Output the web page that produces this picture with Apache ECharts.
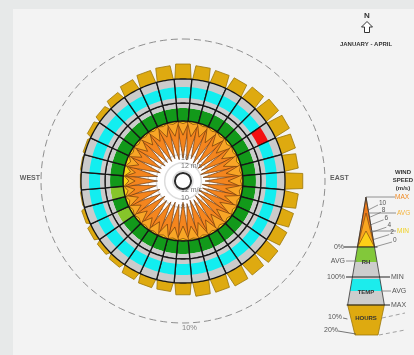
<!DOCTYPE html>
<html>
<head>
<meta charset="utf-8">
<script src="https://cdn.jsdelivr.net/npm/echarts@6/dist/echarts.min.js"></script>
<style>
  html, body { margin: 0; padding: 0; background: #e7e9e9; }
  #chart { width: 414px; height: 355px; }
</style>
</head>
<body>
<div id="chart"></div>
<script>
// Wind rose, January - April: one 10-degree sector per direction (degrees clockwise from north)
const directions = [0, 10, 20, 30, 40, 50, 60, 70, 80, 90, 100, 110, 120, 130, 140, 150, 160, 170,
                    180, 190, 200, 210, 220, 230, 240, 250, 260, 270, 280, 290, 300, 310, 320, 330, 340, 350];

// Share of hours with wind from each sector (%)
const hoursPct = [3.8, 3.5, 3.3, 3.3, 3.7, 4.2, 4.2, 3.8, 3.5, 4.5, 3.5, 3.3, 3.5, 4.0, 3.7, 3.8, 3.5, 3.5,
                  3.0, 2.3, 2.3, 2.0, 1.3, 1.1, 1.1, 0.9, 0.3, 0.2, 0.3, 0.5, 1.2, 1.5, 2.0, 2.8, 3.3, 3.5];

// Wind speed per sector (m/s)
const speedMax = [8.9, 9.3, 8.7, 9.5, 9.1, 9.7, 9.3, 9.9, 9.5, 9.1, 9.7, 9.4, 10.0, 9.6, 9.8, 9.2, 9.5, 8.9,
                  9.3, 8.7, 9.0, 8.6, 8.3, 8.7, 8.1, 8.5, 7.9, 8.3, 8.2, 8.6, 8.4, 8.8, 8.6, 9.0, 8.7, 9.2];
const speedAvg = [3.4, 3.6, 3.2, 3.8, 3.5, 4.0, 3.7, 4.1, 3.9, 3.6, 4.0, 3.8, 4.2, 3.9, 4.0, 3.6, 3.8, 3.4,
                  3.6, 3.2, 3.4, 3.1, 2.9, 3.2, 2.8, 3.0, 2.7, 2.9, 2.8, 3.1, 3.0, 3.3, 3.1, 3.4, 3.2, 3.5];
const speedMin = [0.6, 0.6, 0.5, 0.6, 0.6, 0.7, 0.6, 0.7, 0.6, 0.6, 0.7, 0.6, 0.7, 0.6, 0.7, 0.6, 0.6, 0.5,
                  0.6, 0.5, 0.6, 0.5, 0.5, 0.6, 0.6, 0.8, 1.0, 1.4, 1.6, 1.0, 0.6, 0.6, 0.5, 0.6, 0.5, 0.6];

// Relative humidity, average per sector (%), and sectors flagged as dry
const rhAvg = [72, 72, 72, 72, 72, 72, 72, 72, 72, 72, 72, 72, 72, 72, 72, 72, 72, 72,
               72, 72, 72, 72, 72, 72, 72, 72, 72, 72, 72, 72, 72, 72, 72, 72, 72, 72];
const drySectors = [240, 260];

// Temperature band per sector (deg C), and sectors flagged as hot
const tempLow = [1, 1, 1, 1, 1, 1, 1, 1, 1, 1, 1, 1, 1, 1, 1, 1, 1, 1,
                 1, 1, 1, 1, 1, 1, 1, 1, 1, 1, 1, 1, 1, 1, 1, 1, 1, 1];
const tempAvg = [12, 12, 12, 12, 12, 12, 12, 12, 12, 12, 12, 12, 12, 12, 12, 12, 12, 12,
                 12, 12, 12, 12, 12, 12, 12, 12, 12, 12, 12, 12, 12, 12, 12, 12, 12, 12];
const hotSectors = [60];

// Speed grid labels inside the rose
const speedGridValues = [12, 10, 8];
const speedGridLabels = ['12 m/s', '10', '8'];

// Reference ring for the hours scale (%)
const hoursRing = 10;

// Legend scale ticks (m/s)
const legendSpeedTicks = [0, 2, 4, 6, 8, 10];

const FONT = '"Liberation Sans", Arial, sans-serif';
const HALF = 5;        // half sector width in degrees
const SPIKE_HALF = 6;  // half base width of the wind spikes in degrees
const CENTER = [183, 181];
// pixel radii of the concentric rings: hub disk, wind speed, humidity, temperature, hours
const RINGS = [[0, 60], [10, 60], [60, 78], [78, 102], [102, 142]];

function arcCell(api, v0, v1, a0, a1, style) {
  const pts = [];
  const n = 8;
  for (let k = 0; k <= n; k++) pts.push(api.coord([v1, a0 + (a1 - a0) * k / n]));
  for (let k = n; k >= 0; k--) pts.push(api.coord([v0, a0 + (a1 - a0) * k / n]));
  return { type: 'polygon', shape: { points: pts }, style: style };
}

function spikeSeries(values, fill) {
  return {
    type: 'custom', coordinateSystem: 'polar', polarIndex: 1, silent: true, z: 3,
    data: directions.map((d, i) => [values[i], d]),
    renderItem: (params, api) => {
      const v = api.value(0), a = api.value(1);
      return {
        type: 'polygon',
        shape: { points: [api.coord([0, a - SPIKE_HALF]), api.coord([v, a]), api.coord([0, a + SPIKE_HALF])] },
        style: { fill: fill, stroke: '#6e3a0c', lineWidth: 0.7 }
      };
    }
  };
}

const polar = RINGS.map(r => ({ center: CENTER, radius: r }));
const angleAxis = RINGS.map((r, i) => ({
  polarIndex: i, type: 'value', min: 0, max: 360, startAngle: 90, clockwise: true,
  axisLine: { show: false }, axisTick: { show: false }, axisLabel: { show: false }, splitLine: { show: false }
}));
const radiusAxis = [
  { polarIndex: 0, type: 'value', min: 0, max: 1, show: false },
  { polarIndex: 1, type: 'value', min: 0, max: 12, interval: 2, inverse: true,
    axisLine: { show: false }, axisTick: { show: false }, axisLabel: { show: false },
    splitLine: { show: true, lineStyle: { color: '#dcdcdc', width: 1.5 } } },
  { polarIndex: 2, type: 'value', min: 0, max: 100, show: false },
  { polarIndex: 3, type: 'value', min: -4, max: 20, show: false },
  { polarIndex: 4, type: 'value', min: 0, max: 10, show: false }
];

const series = [
  // white disk behind the wind spikes
  {
    type: 'custom', coordinateSystem: 'polar', polarIndex: 0, silent: true, z: -1,
    data: [[1, 0]],
    renderItem: (params, api) => {
      const c = api.coord([0, 0]);
      const e = api.coord([api.value(0), 0]);
      const R = Math.hypot(e[0] - c[0], e[1] - c[1]);
      return { type: 'circle', shape: { cx: c[0], cy: c[1], r: R }, style: { fill: '#ffffff' } };
    }
  },
  // hub ring
  {
    type: 'custom', coordinateSystem: 'polar', polarIndex: 0, silent: true, z: 4,
    data: [[0.135, 0]],
    renderItem: (params, api) => {
      const c = api.coord([0, 0]);
      const e = api.coord([api.value(0), 0]);
      const R = Math.hypot(e[0] - c[0], e[1] - c[1]);
      return { type: 'circle', shape: { cx: c[0], cy: c[1], r: R }, style: { fill: '#ffffff', stroke: '#2b2b2b', lineWidth: 2 } };
    }
  },
  // dashed 10% hours ring
  {
    type: 'custom', coordinateSystem: 'polar', polarIndex: 4, silent: true, z: 1,
    data: [[hoursRing, 0]],
    renderItem: (params, api) => {
      const v = api.value(0);
      const pts = [];
      for (let a = 0; a <= 360; a += 2) pts.push(api.coord([v, a]));
      return { type: 'polyline', shape: { points: pts }, style: { fill: 'none', stroke: '#8e8e8e', lineWidth: 1, lineDash: [7, 4] } };
    }
  },
  // speed grid labels (drawn under the spikes)
  {
    type: 'scatter', coordinateSystem: 'polar', polarIndex: 1, silent: true, z: 1,
    symbolSize: 0,
    data: speedGridValues.map((v, i) => ({ value: [v, 0], label: { formatter: speedGridLabels[i], offset: [-2, -5] } }))
      .concat(speedGridValues.map((v, i) => ({ value: [v, 180], label: { formatter: speedGridLabels[i], offset: [-2, -1] } }))),
    label: { show: true, position: 'right', distance: 0, color: '#505050', fontSize: 7, fontFamily: FONT }
  },
  spikeSeries(speedMax, '#f4851e'),
  spikeSeries(speedAvg, '#f8a526'),
  spikeSeries(speedMin, '#fcd116'),
  // relative humidity ring
  {
    type: 'custom', coordinateSystem: 'polar', polarIndex: 2, silent: true, z: 3,
    data: directions.map((d, i) => [rhAvg[i], d, drySectors.indexOf(d) >= 0 ? 1 : 0]),
    renderItem: (params, api) => {
      const v = api.value(0), a = api.value(1), dry = api.value(2);
      return {
        type: 'group', children: [
          arcCell(api, 0, v, a - HALF, a + HALF, { fill: dry ? '#86c52a' : '#12991a' }),
          arcCell(api, v, 100, a - HALF, a + HALF, { fill: '#cbcbcb' }),
          arcCell(api, 0, 100, a - HALF, a + HALF, { fill: 'none', stroke: '#161616', lineWidth: 1.3 })
        ]
      };
    }
  },
  // temperature ring
  {
    type: 'custom', coordinateSystem: 'polar', polarIndex: 3, silent: true, z: 3,
    data: directions.map((d, i) => [tempLow[i], d, tempAvg[i], hotSectors.indexOf(d) >= 0 ? 1 : 0]),
    renderItem: (params, api) => {
      const lo = api.value(0), a = api.value(1), avg = api.value(2), hot = api.value(3);
      return {
        type: 'group', children: [
          arcCell(api, -4, 20, a - HALF, a + HALF, { fill: '#cbcbcb' }),
          arcCell(api, lo, avg, a - HALF, a + HALF, { fill: hot ? '#f21010' : '#12eef0' }),
          arcCell(api, -4, 20, a - HALF, a + HALF, { fill: 'none', stroke: '#161616', lineWidth: 1.3 })
        ]
      };
    }
  },
  // hours bars
  {
    type: 'custom', coordinateSystem: 'polar', polarIndex: 4, silent: true, z: 2,
    data: directions.map((d, i) => [hoursPct[i], d]),
    renderItem: (params, api) => {
      const v = api.value(0), a = api.value(1);
      return {
        type: 'polygon',
        shape: { points: [api.coord([0, a - 4.6]), api.coord([0, a + 4.6]), api.coord([v, a + 3.6]), api.coord([v, a - 3.6])] },
        style: { fill: '#deaa10', stroke: '#9a7609', lineWidth: 0.8 }
      };
    }
  },
  // compass labels and 10% ring label
  {
    type: 'scatter', coordinateSystem: 'polar', polarIndex: 4, silent: true, z: 5,
    symbolSize: 0,
    data: [
      { value: [hoursRing, 180], label: { formatter: hoursRing + '%', position: 'right', distance: 0, offset: [-1, 5], color: '#6a6a6a', fontSize: 7.5 } },
      { value: [hoursRing, 270], label: { formatter: 'WEST', position: 'left', distance: 1, offset: [0, -3], fontWeight: 'bold', color: '#3a3a3a', fontSize: 7 } },
      { value: [hoursRing, 90], label: { formatter: 'EAST', position: 'right', distance: 5, offset: [0, -3], fontWeight: 'bold', color: '#3a3a3a', fontSize: 7 } }
    ],
    label: { show: true, fontFamily: FONT }
  }
];

// ---- key (legend wedge), compass and period title ----
const AX = 366, AY = 197, K = 0.17; // wedge apex and side slope
const L = y => AX - K * (y - AY);
const R = y => AX + K * (y - AY);
function band(y0, y1, fill) {
  return { type: 'polygon', z: 20, shape: { points: [[L(y0), y0], [R(y0), y0], [R(y1), y1], [L(y1), y1]] }, style: { fill: fill } };
}
function tri(yApex, yBase, fill) {
  return { type: 'polygon', z: 20, shape: { points: [[AX, yApex], [R(yBase), yBase], [L(yBase), yBase]] }, style: { fill: fill, stroke: '#6b3d10', lineWidth: 0.6 } };
}
function line(x1, y1, x2, y2, stroke, w, dash) {
  return { type: 'line', z: 21, shape: { x1: x1, y1: y1, x2: x2, y2: y2 }, style: { stroke: stroke, lineWidth: w, lineDash: dash || null } };
}
function text(x, y, t, o) {
  o = o || {};
  return { type: 'text', z: 22, x: x, y: y, style: {
    text: t, fill: o.fill || '#555', textAlign: o.align || 'left', textVerticalAlign: 'middle',
    font: (o.bold ? 'bold ' : '') + (o.size || 7) + 'px ' + FONT } };
}

const graphic = [
  { type: 'rect', z: -10, shape: { x: 13, y: 9, width: 401, height: 346 }, style: { fill: '#f3f3f3' } },
  // compass
  text(367, 16, 'N', { bold: true, size: 8, align: 'center', fill: '#333' }),
  { type: 'polygon', z: 20, shape: { points: [[367, 21.5], [372.5, 27], [369.5, 27], [369.5, 32.5], [364.5, 32.5], [364.5, 27], [361.5, 27]] },
    style: { fill: '#ffffff', stroke: '#333', lineWidth: 1 } },
  text(366, 44, 'JANUARY - APRIL', { bold: true, size: 6, align: 'center', fill: '#333' }),
  // key title
  text(403, 172, 'WIND', { bold: true, size: 6, align: 'center', fill: '#333' }),
  text(403, 180, 'SPEED', { bold: true, size: 6, align: 'center', fill: '#333' }),
  text(403, 188, '(m/s)', { bold: true, size: 6, align: 'center', fill: '#333' }),
  // wind speed triangles
  tri(AY, 247, '#ef7c1b'),
  tri(213, 247, '#f9a620'),
  tri(231, 247, '#fdd017'),
  // humidity
  band(247, 262, '#82c83a'),
  band(262, 277, '#cdcdcd'),
  // temperature
  band(277, 305, '#cdcdcd'),
  band(279, 291, '#1cecec'),
  // hours
  { type: 'polygon', z: 20, shape: { points: [[L(305), 305], [R(305), 305], [378, 335], [355, 335]] },
    style: { fill: '#deaa10', stroke: '#9a7609', lineWidth: 0.8 } },
  // wedge sides
  line(AX, AY, L(305), 305, '#333', 0.8),
  line(AX, AY, R(305), 305, '#333', 0.8),
  // horizontal markers
  line(AX, AY, 395, AY, '#777', 0.8),
  line(AX + 2, 213, 396, 213, '#777', 0.8),
  line(AX + 4, 231, 396, 231, '#777', 0.8),
  line(344, 247, R(247) + 3, 247, '#222', 1),
  line(346, 261, L(261) + 2, 261, '#777', 0.8),
  line(346, 277, 390, 277, '#222', 1),
  line(R(291) - 1, 291, 391, 291, '#777', 0.8),
  line(L(305) - 1, 305, 390, 305, '#222', 1.2),
  line(343, 318, L(318) + 2, 319, '#555', 0.8),
  line(338, 331, 356, 334, '#555', 0.8),
  line(382, 318, 405, 313, '#8c8c8c', 0.8, [4, 3]),
  line(379, 335, 405, 330, '#8c8c8c', 0.8, [4, 3]),
  // labels
  text(395, 197, 'MAX', { fill: '#f08a24', size: 6.5 }),
  text(397, 213, 'AVG', { fill: '#f5b33a', size: 6.5 }),
  text(397, 231, 'MIN', { fill: '#f0d020', size: 6.5 }),
  text(344, 247, '0%', { align: 'right' }),
  text(345, 261, 'AVG', { align: 'right' }),
  text(345, 277, '100%', { align: 'right' }),
  text(391, 277, 'MIN'),
  text(392, 291, 'AVG'),
  text(391, 305, 'MAX'),
  text(342, 317, '10%', { align: 'right' }),
  text(338, 330, '20%', { align: 'right' }),
  text(AX, 262, 'RH', { bold: true, size: 6, align: 'center', fill: '#333' }),
  text(AX, 292, 'TEMP', { bold: true, size: 6, align: 'center', fill: '#333' }),
  text(AX, 318, 'HOURS', { bold: true, size: 6, align: 'center', fill: '#333' })
];
// speed scale on the key: each tick sits on the wedge edge, labelled up and to the right
legendSpeedTicks.forEach(v => {
  const y = 247 - v * 3.7;
  const lx = 393 - v * 1.4;
  graphic.push(line(R(y), y, lx - 1, y - 5, '#555', 0.6));
  graphic.push(text(lx, y - 7, String(v), { size: 6.5 }));
});

const chart = echarts.init(document.getElementById('chart'));
chart.setOption({
  animation: false,
  backgroundColor: '#e7e9e9',
  polar: polar,
  angleAxis: angleAxis,
  radiusAxis: radiusAxis,
  series: series,
  graphic: graphic
});
</script>
</body>
</html>
